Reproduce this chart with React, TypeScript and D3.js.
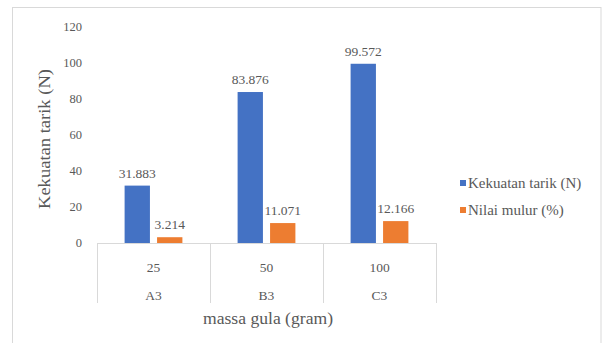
import React from "react";
import * as d3 from "d3";

const codes = ["A3", "B3", "C3"];
const masses = ["25", "50", "100"];
const seriesNames = ["Kekuatan tarik (N)", "Nilai mulur (%)"];
const kekuatan = [31.883, 83.876, 99.572];
const mulur = [3.214, 11.071, 12.166];
const labelsKekuatan = ["31.883", "83.876", "99.572"];
const labelsMulur = ["3.214", "11.071", "12.166"];
const yTicks = [0, 20, 40, 60, 80, 100, 120];
const colors = ["#4472C4", "#ED7D31"];

export default function App() {
  const W = 602, H = 343;
  const x0 = 97, x1 = 436;
  const y = d3.scaleLinear().domain([0, 120]).range([243, 27]);
  const xb = d3.scaleBand().domain(codes).range([x0, x1]).paddingInner(0).paddingOuter(0);
  const xs = d3.scaleBand().domain(["0", "1"]).range([0, xb.bandwidth()]).paddingInner(0.22).paddingOuter(0.85);
  const font = "Liberation Serif, Times New Roman, Times, DejaVu Serif, serif";
  const txt = "#595959";
  const series = [kekuatan, mulur];
  const labels = [labelsKekuatan, labelsMulur];
  const ts = { fontFamily: font };
  return (
    <svg width={W} height={H} style={{ position: "absolute", left: 0, top: 0, display: "block", fontFamily: font }}>
      <rect x={0} y={0} width={W} height={H} fill="#fff" />
      <rect x={12.5} y={7.5} width={588.5} height={340} fill="none" stroke="#d9d9d9" />
      {yTicks.map((t) => (
        <text key={t} style={ts} x={82} y={y(t)} dy="0.35em" textAnchor="end" fontSize={12.5} fill={txt}>{t}</text>
      ))}
      <text style={ts} transform={`translate(44,139) rotate(-90)`} textAnchor="middle" fontSize={16} fill={txt} dy="0.35em" textLength={140} lengthAdjust="spacingAndGlyphs">Kekuatan tarik (N)</text>
      <line x1={x0} x2={x1} y1={243.5} y2={243.5} stroke="#d9d9d9" />
      {[x0, ...codes.map((c) => (xb(c) as number) + xb.bandwidth())].map((xv, i) => (
        <line key={i} x1={Math.round(xv) + 0.5} x2={Math.round(xv) + 0.5} y1={243} y2={303} stroke="#d9d9d9" />
      ))}
      {series.map((vals, si) =>
        codes.map((c, ci) => {
          const bx = (xb(c) as number) + (xs(String(si)) as number);
          return (
            <g key={`${si}-${ci}`}>
              <rect x={bx} y={y(vals[ci])} width={xs.bandwidth()} height={y(0) - y(vals[ci])} fill={colors[si]} />
              <text style={ts} x={bx + xs.bandwidth() / 2} y={y(vals[ci]) - 8} textAnchor="middle" fontSize={13.5} fill={txt}>{labels[si][ci]}</text>
            </g>
          );
        })
      )}
      {codes.map((c, i) => (
        <g key={c}>
          <text style={ts} x={(xb(c) as number) + xb.bandwidth() / 2} y={267} dy="0.35em" textAnchor="middle" fontSize={13.5} fill={txt}>{masses[i]}</text>
          <text style={ts} x={(xb(c) as number) + xb.bandwidth() / 2} y={295} dy="0.35em" textAnchor="middle" fontSize={13.5} fill={txt}>{c}</text>
        </g>
      ))}
      <text style={ts} x={268} y={318} dy="0.35em" textAnchor="middle" fontSize={16} fill={txt} textLength={130} lengthAdjust="spacingAndGlyphs">massa gula (gram)</text>
      {seriesNames.map((n, i) => (
        <g key={n}>
          <rect x={460} y={183 + i * 27 - 3} width={6} height={6} fill={colors[i]} />
          <text style={ts} x={468} y={183 + i * 27} dy="0.35em" fontSize={15} fill={txt}>{n}</text>
        </g>
      ))}
    </svg>
  );
}
